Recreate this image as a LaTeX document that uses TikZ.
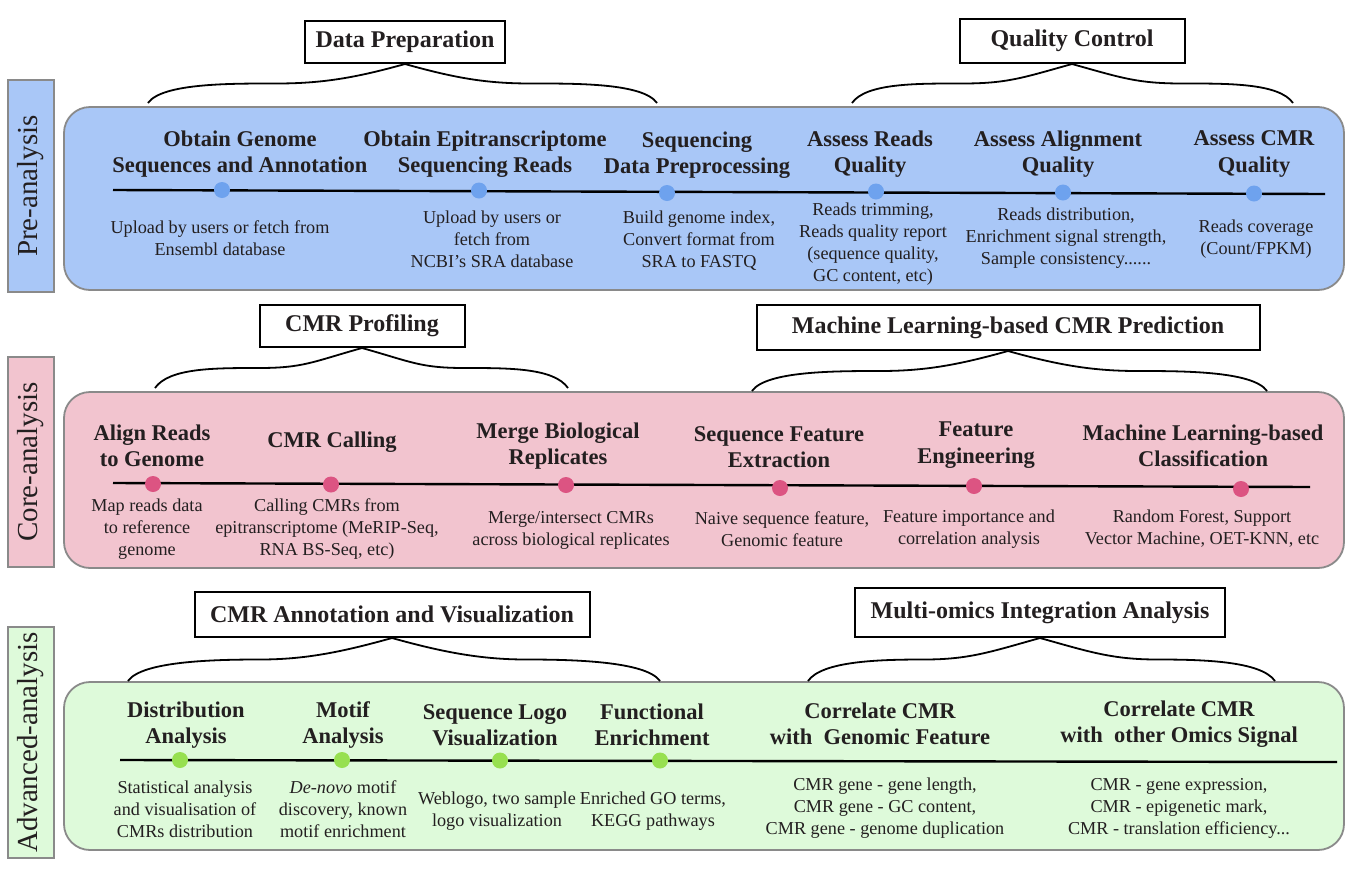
\documentclass[tikz,border=0pt]{standalone}
\usepackage{fontspec}
\setmainfont{Liberation Serif}
\usetikzlibrary{calc}

\definecolor{preblue}{HTML}{A9C7F7}
\definecolor{predot}{HTML}{6EA2EE}
\definecolor{corepink}{HTML}{F2C4CF}
\definecolor{coredot}{HTML}{DC5482}
\definecolor{advgreen}{HTML}{DEFADA}
\definecolor{advdot}{HTML}{97E050}
\definecolor{framegray}{HTML}{8A8A8A}
\definecolor{ink}{HTML}{231F20}

\tikzset{
  phaselabel/.style={draw=framegray, line width=1.8pt, rotate=90, minimum height=46pt,
    inner sep=0pt, text=ink, font={\fontsize{29}{32}\selectfont}},
  panel/.style={draw=framegray, line width=1.8pt, rounded corners=26pt, minimum width=1280pt},
  header/.style={draw=black, line width=2pt, text=ink, inner sep=0pt,
    font={\fontsize{24}{28}\selectfont\bfseries}},
  stagetitle/.style={align=center, text=ink, inner sep=0pt,
    font={\fontsize{22.5}{26.5}\selectfont\bfseries}},
  stagenote/.style={align=center, text=ink, inner sep=0pt,
    font={\fontsize{18.2}{22}\selectfont}},
  stagedot/.style={circle, inner sep=0pt, minimum size=16pt},
  timeline/.style={line width=2.4pt, black},
  bracestyle/.style={line width=1.8pt, black}
}

\newcommand{\wavybrace}[3]{%
  \draw[bracestyle] (#1) .. controls +(14,-20) and +(-45,0) .. ($(#1)!0.5!(#2.south)$)
    .. controls +(45,0) and +(-50,14) .. (#2.south)
    .. controls +(50,14) and +(-45,0) .. ($(#2.south)!0.5!(#3)$)
    .. controls +(45,0) and +(-14,-20) .. (#3);
}

\begin{document}
\begin{tikzpicture}[x=1pt, y=-1pt]
\useasboundingbox (0,0) rectangle (1358,876);

% phases on the left
\node[phaselabel, fill=preblue, minimum width=212pt] (prelab) at (31,186) {Pre-analysis};
\node[phaselabel, fill=corepink, minimum width=210pt] (corelab) at (31,462) {Core-analysis};
\node[phaselabel, fill=advgreen, minimum width=231pt] (advlab) at (31,742.5) {Advanced-analysis};

% panels
\node[panel, fill=preblue, minimum height=183pt] (prepanel) at (704,198.5) {};
\node[panel, fill=corepink, minimum height=176pt] (corepanel) at (704,480) {};
\node[panel, fill=advgreen, minimum height=168pt] (advpanel) at (704,766) {};

% headers
\node[header, minimum width=200pt, minimum height=42pt] (dataprep) at (405,42) {Data Preparation};
\node[header, minimum width=225pt, minimum height=44pt] (qualityctl) at (1072,41) {Quality Control};
\node[header, minimum width=205pt, minimum height=42pt] (profiling) at (362,326) {CMR Profiling};
\node[header, minimum width=503pt, minimum height=45pt] (mlpredict) at (1008,327.5) {Machine Learning-based CMR Prediction};
\node[header, minimum width=395pt, minimum height=45pt] (annotation) at (392,614.5) {CMR Annotation and Visualization};
\node[header, minimum width=370pt, minimum height=49pt] (multiomics) at (1040,612.5) {Multi-omics Integration Analysis};

% brace ends
\coordinate (dataprepL) at (148,103);
\coordinate (dataprepR) at (657,103);
\coordinate (qualityctlL) at (852,103);
\coordinate (qualityctlR) at (1293,103);
\coordinate (profilingL) at (155,388);
\coordinate (profilingR) at (568,388);
\coordinate (mlpredictL) at (752,391);
\coordinate (mlpredictR) at (1267,391);
\coordinate (annotationL) at (128,681);
\coordinate (annotationR) at (660,681);
\coordinate (multiomicsL) at (808,681);
\coordinate (multiomicsR) at (1275,681);

\wavybrace{dataprepL}{dataprep}{dataprepR}
\wavybrace{qualityctlL}{qualityctl}{qualityctlR}
\wavybrace{profilingL}{profiling}{profilingR}
\wavybrace{mlpredictL}{mlpredict}{mlpredictR}
\wavybrace{annotationL}{annotation}{annotationR}
\wavybrace{multiomicsL}{multiomics}{multiomicsR}

% pre-analysis
\coordinate (preL) at (113,190);
\coordinate (preR) at (1325,194);
\draw[timeline] (preL) -- (preR);

\node[stagetitle] (genome) at (240,154) {Obtain Genome\\Sequences and Annotation};
\node[stagetitle] (epireads) at (485,154) {Obtain Epitranscriptome\\Sequencing Reads};
\node[stagetitle] (preproc) at (697,155) {Sequencing\\Data Preprocessing};
\node[stagetitle] (readsq) at (870,154) {Assess Reads\\Quality};
\node[stagetitle] (alignq) at (1058,154) {Assess Alignment\\Quality};
\node[stagetitle] (cmrq) at (1254,154) {Assess CMR\\Quality};

\node[stagedot, fill=predot] (genomedot) at (222,190) {};
\node[stagedot, fill=predot] (epireadsdot) at (479,190.5) {};
\node[stagedot, fill=predot] (preprocdot) at (667,193) {};
\node[stagedot, fill=predot] (readsqdot) at (876,191.5) {};
\node[stagedot, fill=predot] (alignqdot) at (1063,192.5) {};
\node[stagedot, fill=predot] (cmrqdot) at (1254,193.5) {};

\node[stagenote] (genomenote) at (220,238.5) {Upload by users or fetch from\\Ensembl database};
\node[stagenote] (epireadsnote) at (492,239) {Upload by users or\\fetch from\\NCBI’s SRA database};
\node[stagenote] (preprocnote) at (699,241) {Build genome index,\\Convert format from\\SRA to FASTQ};
\node[stagenote] (readsqnote) at (873,244) {Reads trimming,\\Reads quality report\\(sequence quality,\\GC content, etc)};
\node[stagenote] (alignqnote) at (1066,238) {Reads distribution,\\Enrichment signal strength,\\Sample consistency......};
\node[stagenote] (cmrqnote) at (1256,239) {Reads coverage\\(Count/FPKM)};

% core-analysis
\coordinate (coreL) at (113,483);
\coordinate (coreR) at (1310,487);
\draw[timeline] (coreL) -- (coreR);

\node[stagetitle] (alignreads) at (152,446) {Align Reads\\to Genome};
\node[stagetitle] (calling) at (332,442) {CMR Calling};
\node[stagetitle] (merging) at (558,446) {Merge Biological\\Replicates};
\node[stagetitle] (seqfeat) at (779,447) {Sequence Feature\\Extraction};
\node[stagetitle] (feateng) at (976,445) {Feature\\Engineering};
\node[stagetitle] (mlclass) at (1203,446) {Machine Learning-based\\Classification};

\node[stagedot, fill=coredot] (alignreadsdot) at (153,484) {};
\node[stagedot, fill=coredot] (callingdot) at (331,484.5) {};
\node[stagedot, fill=coredot] (mergingdot) at (566,485) {};
\node[stagedot, fill=coredot] (seqfeatdot) at (780,488) {};
\node[stagedot, fill=coredot] (featengdot) at (974,486) {};
\node[stagedot, fill=coredot] (mlclassdot) at (1241,489) {};

\node[stagenote] (alignreadsnote) at (147,529) {Map reads data\\to reference\\genome};
\node[stagenote] (callingnote) at (327,529) {Calling CMRs from\\epitranscriptome (MeRIP-Seq,\\RNA BS-Seq, etc)};
\node[stagenote] (mergingnote) at (571,530) {Merge/intersect CMRs\\across biological replicates};
\node[stagenote] (seqfeatnote) at (782,529) {Naive sequence feature,\\Genomic feature};
\node[stagenote] (featengnote) at (969,529) {Feature importance and\\correlation analysis};
\node[stagenote] (mlclassnote) at (1202,529) {Random Forest, Support\\Vector Machine, OET-KNN, etc};

% advanced-analysis
\coordinate (advL) at (120,760);
\coordinate (advR) at (1337,762);
\draw[timeline] (advL) -- (advR);

\node[stagetitle] (distrib) at (186,725) {Distribution\\Analysis};
\node[stagetitle] (motif) at (343,725) {Motif\\Analysis};
\node[stagetitle] (seqlogo) at (495,725) {Sequence Logo\\Visualization};
\node[stagetitle] (funcenrich) at (652,725) {Functional\\Enrichment};
\node[stagetitle] (genomicfeat) at (880,724) {Correlate CMR\\with\ \ Genomic Feature};
\node[stagetitle] (omicsignal) at (1179,724) {Correlate CMR\\with\ \ other Omics Signal};

\node[stagedot, fill=advdot] (distribdot) at (180,760) {};
\node[stagedot, fill=advdot] (motifdot) at (342,760) {};
\node[stagedot, fill=advdot] (seqlogodot) at (500,760.5) {};
\node[stagedot, fill=advdot] (funcenrichdot) at (660,760.5) {};

\node[stagenote] (distribnote) at (185,809) {Statistical analysis\\and visualisation of\\CMRs distribution};
\node[stagenote] (motifnote) at (343,809) {\textit{De-novo} motif\\discovery, known\\motif enrichment};
\node[stagenote] (seqlogonote) at (497,811) {Weblogo, two sample\\logo visualization};
\node[stagenote] (funcenrichnote) at (653,811) {Enriched GO terms,\\KEGG pathways};
\node[stagenote] (genomicfeatnote) at (885,808) {CMR gene - gene length,\\CMR gene - GC content,\\CMR gene - genome duplication};
\node[stagenote] (omicsignalnote) at (1179,808) {CMR - gene expression,\\CMR - epigenetic mark,\\CMR - translation efficiency...};
\end{tikzpicture}
\end{document}
